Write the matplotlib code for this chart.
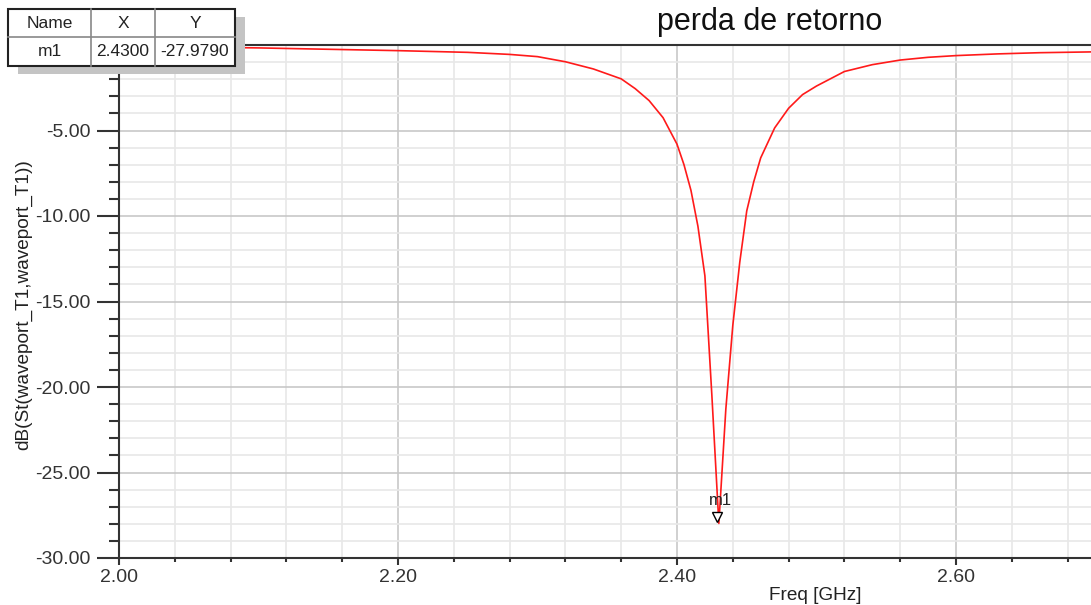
import numpy as np
import matplotlib
matplotlib.use('Agg')
import matplotlib.pyplot as plt
from matplotlib.ticker import MultipleLocator
from matplotlib.patches import Rectangle

plt.rcParams['font.family'] = ['Liberation Sans', 'DejaVu Sans']

# valores (S11 em dB)
freq = [2.00, 2.05, 2.10, 2.15, 2.20, 2.25, 2.28, 2.30, 2.32, 2.34, 2.36, 2.37,
        2.38, 2.39, 2.40, 2.405, 2.41, 2.415, 2.42, 2.425, 2.43, 2.435, 2.44,
        2.445, 2.45, 2.455, 2.46, 2.47, 2.48, 2.49, 2.50, 2.52, 2.54, 2.56,
        2.58, 2.60, 2.63, 2.66, 2.70]
s11_db = [-0.08, -0.12, -0.17, -0.25, -0.33, -0.43, -0.55, -0.68, -0.98, -1.40,
          -1.98, -2.55, -3.25, -4.25, -5.80, -7.00, -8.50, -10.60, -13.50,
          -20.50, -27.979, -21.30, -16.40, -12.70, -9.70, -8.00, -6.60, -4.85,
          -3.70, -2.90, -2.40, -1.55, -1.15, -0.88, -0.72, -0.62, -0.52, -0.45,
          -0.40]

marker_name = 'm1'
marker_x = 2.43
marker_y = -27.979

W, H = 1091, 605
fig = plt.figure(figsize=(W / 100, H / 100), dpi=100)
ax = fig.add_axes([119 / W, 1 - 558 / H, (1095.5 - 119) / W, (558 - 45) / H])

ax.plot(freq, s11_db, color='#ff1a1a', linewidth=1.2, zorder=3)
ax.plot(marker_x - 0.001, marker_y + 0.4, marker='v', markersize=6.5, markerfacecolor='white',
        markeredgecolor='black', markeredgewidth=1.0, linestyle='none', zorder=4)
ax.text(marker_x + 0.0015, marker_y + 1.35, marker_name, fontsize=12, ha='center',
        va='center', color='#222222', zorder=5)

ax.set_xlim(2.0, 2.70)
ax.set_ylim(-30, 0)
ax.xaxis.set_major_locator(MultipleLocator(0.2))
ax.xaxis.set_minor_locator(MultipleLocator(0.04))
ax.yaxis.set_major_locator(MultipleLocator(5))
ax.yaxis.set_minor_locator(MultipleLocator(1))
ax.xaxis.set_major_formatter(lambda v, p: '%.2f' % v)
# o rotulo 0.00 fica escondido atras da tabela do marcador
ax.yaxis.set_major_formatter(lambda v, p: '' if abs(v) < 1e-9 else '%.2f' % v)

ax.grid(which='major', color='#c8c8c8', linewidth=1.2, zorder=0)
ax.grid(which='minor', color='#e8e8e8', linewidth=1.2, zorder=0)
ax.set_axisbelow(True)

for s in ['left', 'bottom', 'top']:
    ax.spines[s].set_color('#333333')
    ax.spines[s].set_linewidth(1.5)
ax.spines['right'].set_visible(False)

ax.tick_params(axis='y', which='major', direction='out', length=15.5, width=1.5,
               color='#333333', labelsize=14, labelcolor='#333333', pad=5)
ax.tick_params(axis='y', which='minor', direction='out', length=7.5, width=1.5,
               color='#333333')
ax.tick_params(axis='x', which='major', direction='out', length=5, width=1.5,
               color='#333333', labelsize=14, labelcolor='#333333', pad=3)
ax.tick_params(axis='x', which='minor', direction='out', length=3, width=1.5,
               color='#333333')

fig.text(24 / W, 1 - 305 / H, 'dB(St(waveport_T1,waveport_T1))', fontsize=13.7,
         color='#222222', rotation=90, ha='center', va='center')
fig.text(815 / W, 1 - 595 / H, 'Freq [GHz]', fontsize=13.7, color='#222222',
         ha='center', va='center')
fig.text(770 / W, 1 - 22 / H, 'perda de retorno', fontsize=22, color='#111111',
         ha='center', va='center')

# tabela do marcador
x0, y0, x1, y1 = 8, 9, 235, 66
fig.patches.append(Rectangle(((x0 + 10) / W, 1 - (y1 + 8) / H), (x1 - x0) / W, (y1 - y0) / H,
                             transform=fig.transFigure, facecolor='#c4c4c4',
                             edgecolor='none', zorder=10))
fig.patches.append(Rectangle((x0 / W, 1 - y1 / H), (x1 - x0) / W, (y1 - y0) / H,
                             transform=fig.transFigure, facecolor='white',
                             edgecolor='#222222', linewidth=1.5, zorder=11))
col_x = [8, 91, 155, 235]
for cx in col_x[1:-1]:
    fig.add_artist(plt.Line2D([cx / W, cx / W], [1 - y0 / H, 1 - y1 / H],
                              color='#888888', linewidth=1.2, zorder=12))
fig.add_artist(plt.Line2D([x0 / W, x1 / W], [1 - 37 / H, 1 - 37 / H],
                          color='#888888', linewidth=1.2, zorder=12))
header = ['Name', 'X', 'Y']
row = [marker_name, '%.4f' % marker_x, '%.4f' % marker_y]
for i in range(3):
    cx = (col_x[i] + col_x[i + 1]) / 2
    fig.text(cx / W, 1 - 23 / H, header[i], fontsize=12.5, ha='center', va='center',
             color='#222222', zorder=13)
    fig.text(cx / W, 1 - 52 / H, row[i], fontsize=12.5, ha='center', va='center',
             color='#222222', zorder=13)

fig.savefig('out.png', dpi=100)
